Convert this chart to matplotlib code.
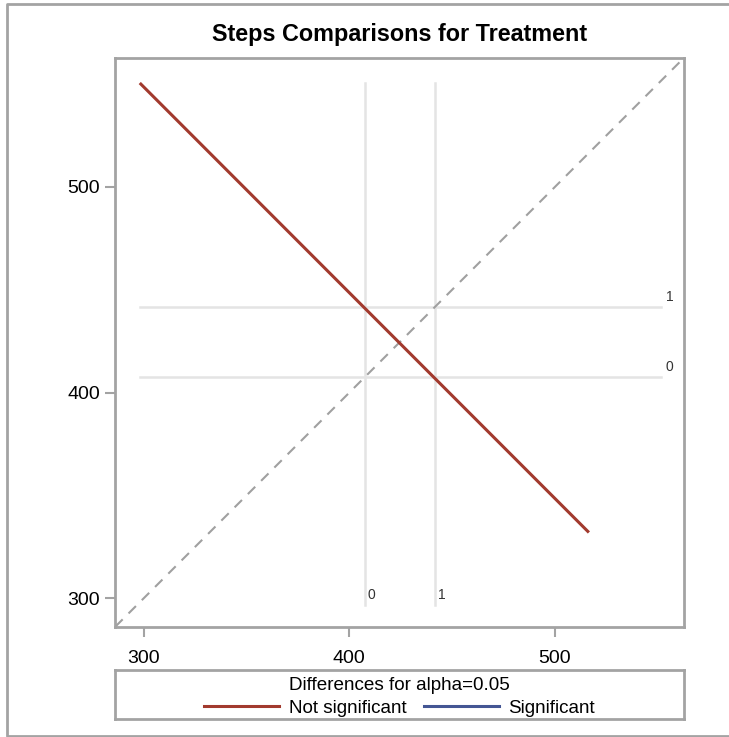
import matplotlib
matplotlib.use("Agg")
import matplotlib.pyplot as plt
from matplotlib.lines import Line2D

plt.rcParams["font.family"] = ["Liberation Sans", "DejaVu Sans"]

# treatment level means (diffogram reference lines)
levels = ["0", "1"]
level_means = [407.4, 441.7]

# comparison segment endpoints (1 vs 0)
seg_x = [298.1, 516.5]
seg_y = [550.5, 332.0]
seg_significant = False

# extents of the reference lines
ref_lo, ref_hi = 296.6, 551.6
axis_lo, axis_hi = 286.2, 562.5
ticks = [300, 400, 500]

red = "#A23A2E"
blue = "#445694"
frame_gray = "#a3a3a3"
ref_gray = "#e4e4e4"

fig = plt.figure(figsize=(7.29, 7.37), dpi=100)

# outer frame (left, top, bottom)
fig.add_artist(Line2D([1.01, 7 / 729, 7 / 729, 1.01],
                      [1 - 3.5 / 737, 1 - 3.5 / 737, 1 / 737, 1 / 737],
                      transform=fig.transFigure, color=frame_gray, lw=2))

ax = fig.add_axes([115.3 / 729, 1 - 626.7 / 737, 568.2 / 729, 568.4 / 737])

# reference lines at each level mean
for lab, m in zip(levels, level_means):
    ax.plot([m, m], [ref_lo, ref_hi - 1], color=ref_gray, lw=1.8, zorder=1)
    ax.plot([ref_lo + 1.5, ref_hi], [m, m], color=ref_gray, lw=1.8, zorder=1)
    ax.text(m + 1.2, ref_lo + 5.2, lab, fontsize=10, color="#333333",
            ha="left", va="center")
    ax.text(ref_hi + 2.3, m + 4.8, lab, fontsize=10, color="#333333",
            ha="left", va="center")

# diagonal y = x
ax.plot([axis_lo, axis_hi], [axis_lo, axis_hi], color="#a0a0a0", lw=1.5,
        ls=(0, (5, 4)), zorder=2)

ax.plot(seg_x, seg_y, color=blue if seg_significant else red, lw=2.2,
        solid_capstyle="butt", zorder=3)

ax.set_xlim(axis_lo, axis_hi)
ax.set_ylim(axis_lo, axis_hi)
ax.set_xticks(ticks)
ax.set_yticks(ticks)
ax.tick_params(length=7, width=1.5, color=frame_gray, labelsize=14)
ax.tick_params(axis="x", pad=10)
ax.tick_params(axis="y", pad=4)
for sp in ax.spines.values():
    sp.set_color(frame_gray)
    sp.set_linewidth(2)

fig.text(400 / 729, 1 - 34.5 / 737, "Steps Comparisons for Treatment",
         fontsize=16.8, fontweight="bold", ha="center", va="center")

# legend box
lax = fig.add_axes([115.3 / 729, 1 - 719 / 737, 568.4 / 729, 49 / 737])
lax.set_xticks([])
lax.set_yticks([])
for sp in lax.spines.values():
    sp.set_color(frame_gray)
    sp.set_linewidth(2)
lax.text(0.5, 0.69, "Differences for alpha=0.05", fontsize=13.6,
         ha="center", va="center", transform=lax.transAxes)
handles = [Line2D([], [], color=red, lw=2.2), Line2D([], [], color=blue, lw=2.2)]
lax.legend(handles, ["Not significant", "Significant"], ncol=2,
           loc="center", bbox_to_anchor=(0.5, 0.22),
           frameon=False, fontsize=13.6,
           handlelength=4.0, handletextpad=0.5, columnspacing=0.9,
           borderpad=0, labelspacing=0)

fig.savefig("out.png", dpi=100)
